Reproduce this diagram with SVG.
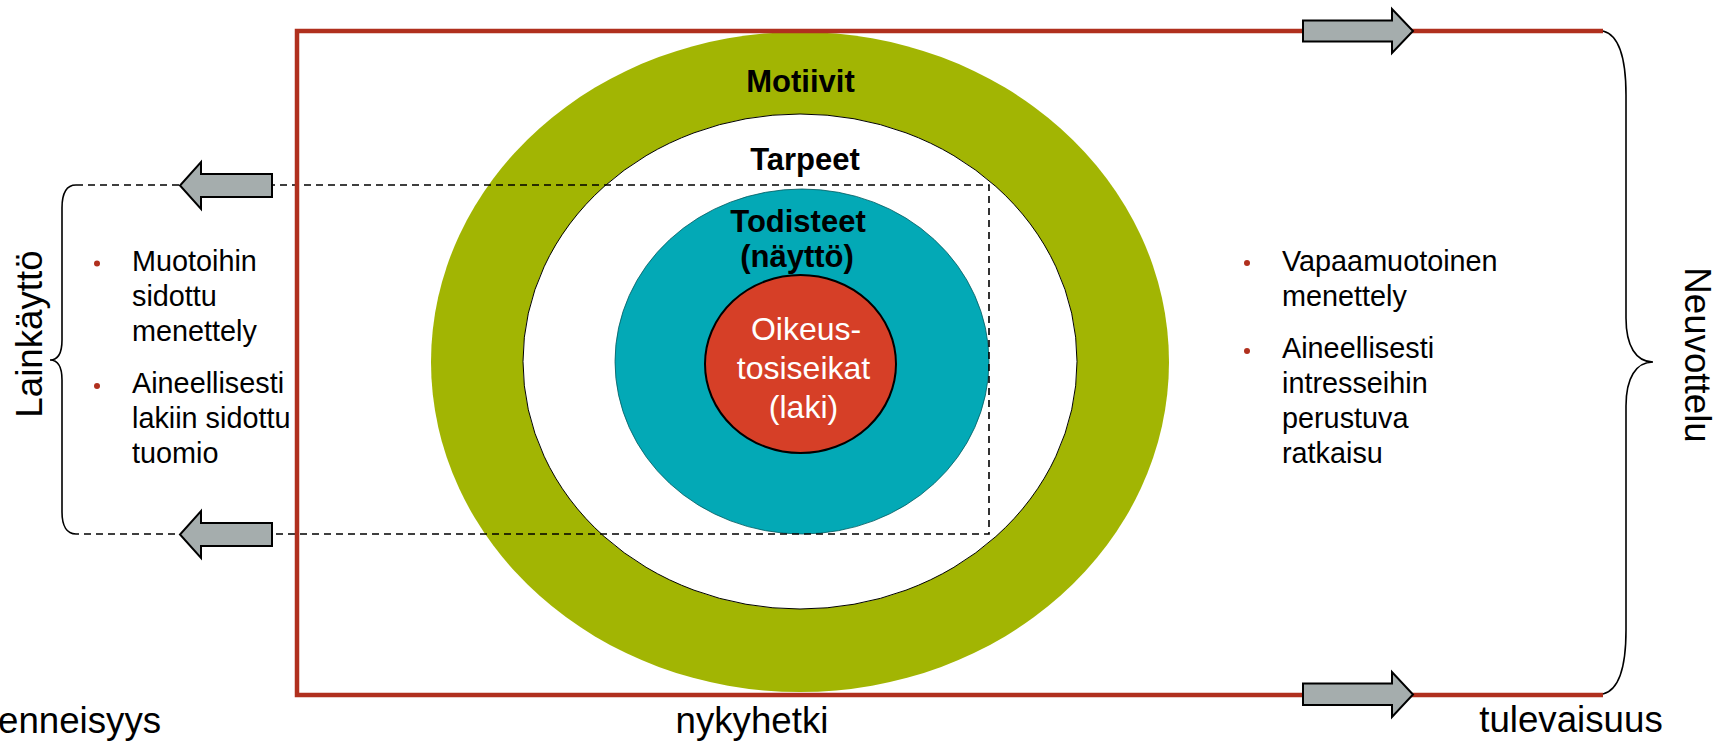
<svg xmlns="http://www.w3.org/2000/svg" width="1715" height="747" viewBox="0 0 1715 747">
<defs>
<style>
.t{font-family:"Liberation Sans",Arial,sans-serif;fill:#000}
.big{font-size:36.7px}
.bul{font-size:28.8px}
.bold{font-size:31px;font-weight:bold;text-anchor:middle}
.wt{font-size:32px;fill:#fff;text-anchor:middle}
.arrow{fill:#A5ADAD;stroke:#000;stroke-width:2;stroke-linejoin:miter}
.brace{fill:none;stroke:#000;stroke-width:1.6}
.dash{fill:none;stroke:#000;stroke-width:1.6;stroke-dasharray:7 5}
.dot{fill:#B0301E}
</style>
</defs>
<rect width="1715" height="747" fill="#fff"/>

<g id="motiivit">
<ellipse cx="800" cy="362" rx="369" ry="330" fill="#A2B503"/>
</g>
<g id="tarpeet">
<ellipse cx="800" cy="361.5" rx="277" ry="247.5" fill="#fff" stroke="#000" stroke-width="1"/>
</g>
<g id="todisteet">
<ellipse cx="802" cy="361.5" rx="187" ry="172.5" fill="#03A9B6" stroke="#035a60" stroke-width="0.8"/>
</g>
<g id="oikeustosiseikat">
<ellipse cx="800.5" cy="364" rx="95.5" ry="89" fill="#D63F27" stroke="#000" stroke-width="2"/>
<text class="t wt" x="806" y="340">Oikeus-</text>
<text class="t wt" x="803.5" y="379">tosiseikat</text>
<text class="t wt" x="803.5" y="418">(laki)</text>
</g>

<g id="labels-center">
<text class="t bold" x="800.5" y="92">Motiivit</text>
<text class="t bold" x="805" y="170">Tarpeet</text>
<text class="t bold" x="798" y="232">Todisteet</text>
<text class="t bold" x="797" y="267">(näyttö)</text>
</g>

<g id="connectors">
<path class="dash" d="M76,185 H989 V534 H76"/>
<path d="M1603,31 H297 V695 H1603" fill="none" stroke="#B0301E" stroke-width="4.5"/>
<path class="arrow" d="M272,174 H201 V162 L180,185.5 L201,209 V197 H272 Z"/>
<path class="arrow" d="M272,523 H201 V511 L180,534.5 L201,558 V546 H272 Z"/>
<path class="arrow" d="M1303,20.5 H1392 V9 L1413,31 L1392,53 V41.5 H1303 Z"/>
<path class="arrow" d="M1303,683.5 H1392 V672 L1413,694.5 L1392,717 V705 H1303 Z"/>
</g>

<g id="lainkaytto">
<path class="brace" d="M76,185 C67,185 62,193 62,208 L62,340 C62,353 58,360 50,360 C58,360 62,367 62,380 L62,512 C62,526 67,534 76,534"/>
<text class="t big" text-anchor="middle" transform="translate(42,334) rotate(-90)">Lainkäyttö</text>
<circle class="dot" cx="97" cy="263.5" r="3"/>
<circle class="dot" cx="97" cy="386" r="3"/>
<text class="t bul" x="132" y="271">Muotoihin</text>
<text class="t bul" x="132" y="306">sidottu</text>
<text class="t bul" x="132" y="341">menettely</text>
<text class="t bul" x="132" y="393">Aineellisesti</text>
<text class="t bul" x="132" y="428">lakiin sidottu</text>
<text class="t bul" x="132" y="463">tuomio</text>
</g>

<g id="neuvottelu">
<path class="brace" d="M1603,31 C1619,35 1626,58 1626,95 L1626,318 C1626,346 1636,362 1653,362 C1636,362 1626,378 1626,406 L1626,630 C1626,667 1619,690 1603,694"/>
<text class="t big" text-anchor="middle" transform="translate(1685,355) rotate(90)">Neuvottelu</text>
<circle class="dot" cx="1247" cy="263" r="3"/>
<circle class="dot" cx="1247" cy="351" r="3"/>
<text class="t bul" x="1282" y="271">Vapaamuotoinen</text>
<text class="t bul" x="1282" y="306">menettely</text>
<text class="t bul" x="1282" y="358">Aineellisesti</text>
<text class="t bul" x="1282" y="393">intresseihin</text>
<text class="t bul" x="1282" y="428">perustuva</text>
<text class="t bul" x="1282" y="463">ratkaisu</text>
</g>

<g id="timeline-labels">
<text class="t big" x="-2" y="733">enneisyys</text>
<text class="t big" text-anchor="middle" x="752" y="733">nykyhetki</text>
<text class="t big" text-anchor="middle" x="1571" y="732">tulevaisuus</text>
</g>
</svg>
